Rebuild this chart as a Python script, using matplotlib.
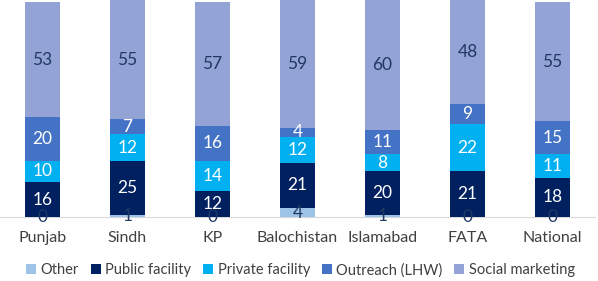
import matplotlib
matplotlib.use("Agg")
import matplotlib.pyplot as plt
import numpy as np

plt.rcParams['font.family'] = ['Lato', 'DejaVu Sans']

regions = ["Punjab", "Sindh", "KP", "Balochistan", "Islamabad", "FATA", "National"]
other = [0, 1, 0, 4, 1, 0, 0]
public = [16, 25, 12, 21, 20, 21, 18]
private = [10, 12, 14, 12, 8, 22, 11]
outreach = [20, 7, 16, 4, 11, 9, 15]
social = [53, 55, 57, 59, 60, 48, 55]

series = [
    ("Other", other, "#9DC3E6", "#1F3864"),
    ("Public facility", public, "#002060", "white"),
    ("Private facility", private, "#00B0F0", "white"),
    ("Outreach (LHW)", outreach, "#4472C4", "white"),
    ("Social marketing", social, "#93A3D6", "#1F3864"),
]

fig = plt.figure(figsize=(5.98, 2.81), dpi=100)
ax = fig.add_axes([0.0, 0.228, 0.995, 0.772])

x = np.arange(len(regions))
bottom = np.zeros(len(regions))
for name, vals, col, tcol in series:
    vals = np.array(vals, dtype=float)
    ax.bar(x, vals, 0.41, bottom=bottom, color=col, label=name)
    for xi, b, v in zip(x, bottom, vals):
        ax.text(xi, b + v / 2, f"{int(v)}", ha="center", va="center",
                color=tcol, fontsize=12.5)
    bottom += vals

ax.set_xlim(-0.5, len(regions) - 0.5)
ax.set_ylim(0, 100)
ax.set_yticks([])
ax.set_xticks(x)
ax.set_xticklabels(regions, fontsize=11.5, color="#404040")
ax.tick_params(axis="x", length=0, pad=10)
for s in ["top", "left", "right"]:
    ax.spines[s].set_visible(False)
ax.spines["bottom"].set_color("#D9D9D9")
ax.spines["bottom"].set_zorder(0)

ax.legend(loc="center", bbox_to_anchor=(0.505, -0.245), ncol=5, frameon=False,
          fontsize=10.5, handlelength=0.7, handleheight=0.7, handletextpad=0.3,
          columnspacing=0.8, labelcolor="#404040", borderpad=0.1)

fig.savefig("out.png", dpi=100)
